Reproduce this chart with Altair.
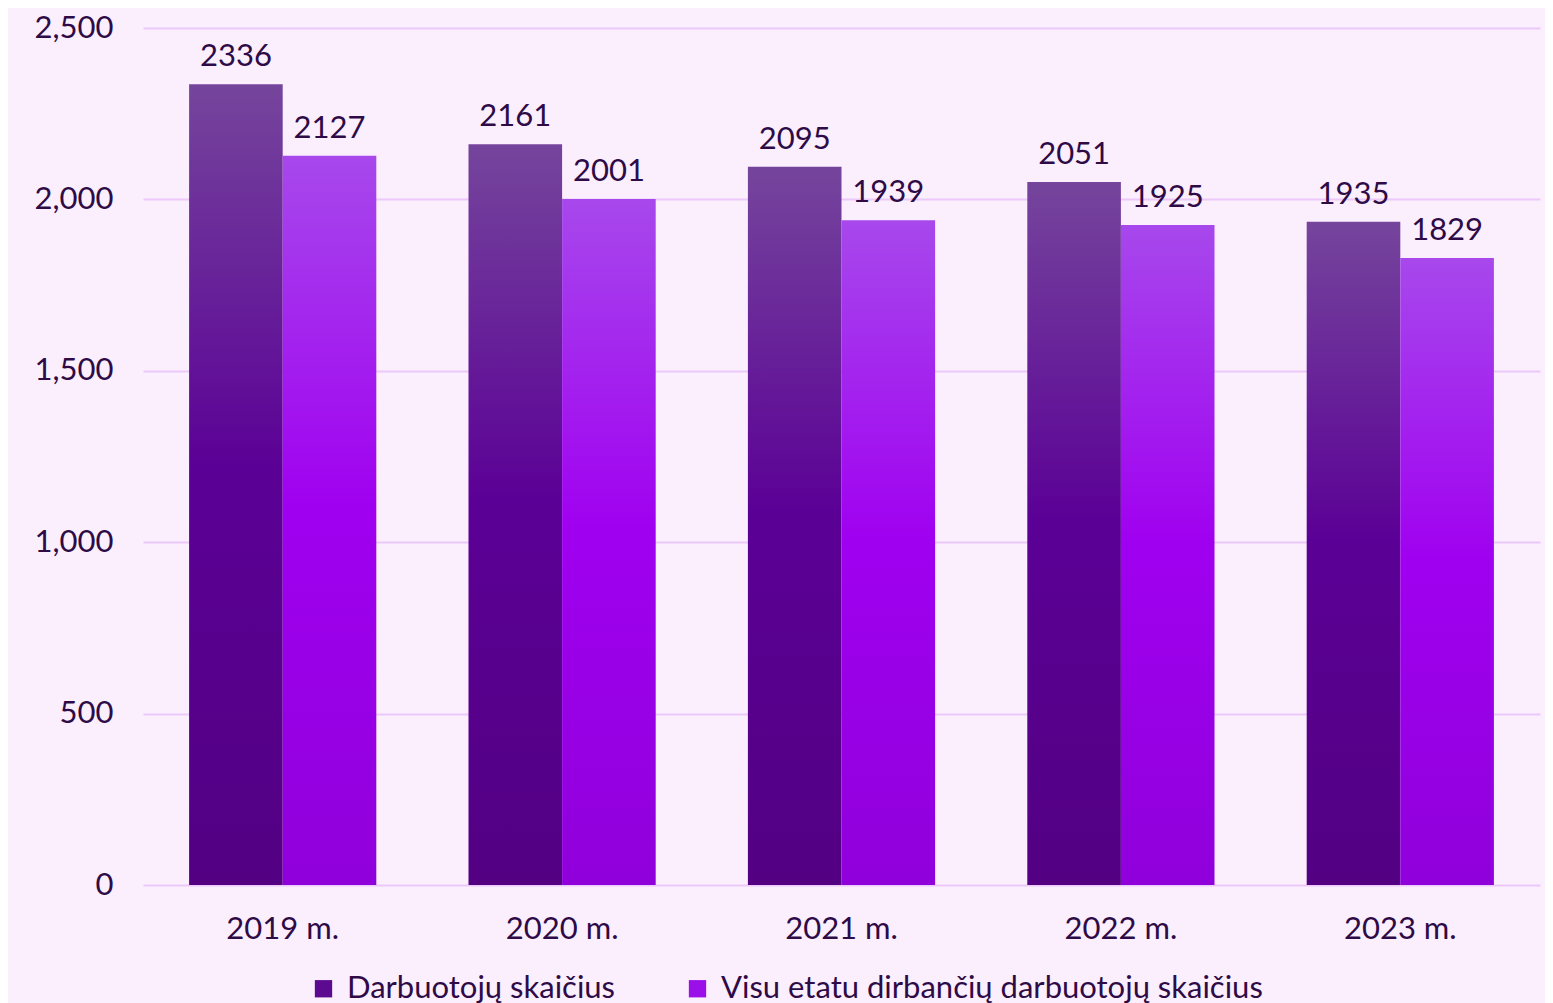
import altair as alt
import pandas as pd

years = ["2019 m.", "2020 m.", "2021 m.", "2022 m.", "2023 m."]
series_names = ["Darbuotojų skaičius", "Visu etatu dirbančių darbuotojų skaičius"]
employees = [2336, 2161, 2095, 2051, 1935]
full_time = [2127, 2001, 1939, 1925, 1829]

rows = []
for y, a, b in zip(years, employees, full_time):
    rows.append({"year": y, "series": series_names[0], "value": a})
    rows.append({"year": y, "series": series_names[1], "value": b})
df = pd.DataFrame(rows)

TEXT = "#2e0b47"
GRID = "#ecc8fb"
BG = "#fbeefd"
FONT = "Lato"
FS = 31

grad1 = alt.LinearGradient(gradient="linear", x1=0, y1=0, x2=0, y2=1, stops=[
    alt.GradientStop(color="#75459c", offset=0),
    alt.GradientStop(color="#5b0096", offset=0.48),
    alt.GradientStop(color="#530083", offset=1),
])
grad2 = alt.LinearGradient(gradient="linear", x1=0, y1=0, x2=0, y2=1, stops=[
    alt.GradientStop(color="#a748ec", offset=0),
    alt.GradientStop(color="#a000f0", offset=0.48),
    alt.GradientStop(color="#9000db", offset=1),
])

x_enc = alt.X("year:N", sort=years, scale=alt.Scale(paddingInner=0.33, paddingOuter=0.165),
              axis=alt.Axis(title=None, labelAngle=0, domain=False, ticks=False,
                            labelPadding=29, labelFontSize=FS, labelColor=TEXT, labelFont=FONT))
xoff = alt.XOffset("series:N", scale=alt.Scale(domain=series_names, paddingInner=0, paddingOuter=0))
y_enc = alt.Y("value:Q", scale=alt.Scale(domain=[0, 2500], nice=False),
              axis=alt.Axis(title=None, values=[0, 500, 1000, 1500, 2000, 2500], format=",.0f",
                            domain=False, ticks=False, labelPadding=30, labelFontSize=FS,
                            labelColor=TEXT, labelFont=FONT, gridColor=GRID, gridWidth=2))

base = alt.Chart(df)

bars1 = base.transform_filter(alt.datum.series == series_names[0]).mark_bar(fill=grad1).encode(
    x=x_enc, xOffset=xoff, y=y_enc)
bars2 = base.transform_filter(alt.datum.series == series_names[1]).mark_bar(fill=grad2).encode(
    x=x_enc, xOffset=xoff, y=y_enc)

labels = base.mark_text(baseline="bottom", dy=-11, fontSize=FS, font=FONT, color=TEXT).encode(
    x=x_enc, xOffset=xoff, y=y_enc, text=alt.Text("value:Q", format="d"))

legend_layer = base.mark_square(opacity=0, size=0).encode(
    x=x_enc, xOffset=xoff, y=y_enc,
    color=alt.Color("series:N", scale=alt.Scale(domain=series_names, range=["#5c0a8f", "#9b10e8"]),
                    legend=alt.Legend(title=None, orient="none", legendX=165, legendY=945,
                                      direction="horizontal", symbolType="square", symbolSize=300,
                                      symbolOpacity=1, symbolStrokeWidth=0, labelFontSize=FS,
                                      labelFont=FONT, labelColor=TEXT, labelOffset=8,
                                      columnPadding=66, padding=0, labelLimit=800)))

chart = alt.layer(bars1, bars2, labels, legend_layer).properties(
    width=1397, height=857, background=BG,
    padding={"left": 135, "top": 20, "right": 5, "bottom": 118},
    autosize=alt.AutoSizeParams(type="none"),
).configure_view(stroke=None)

chart.save("out.html", embed_options={"renderer": "svg", "actions": False})
